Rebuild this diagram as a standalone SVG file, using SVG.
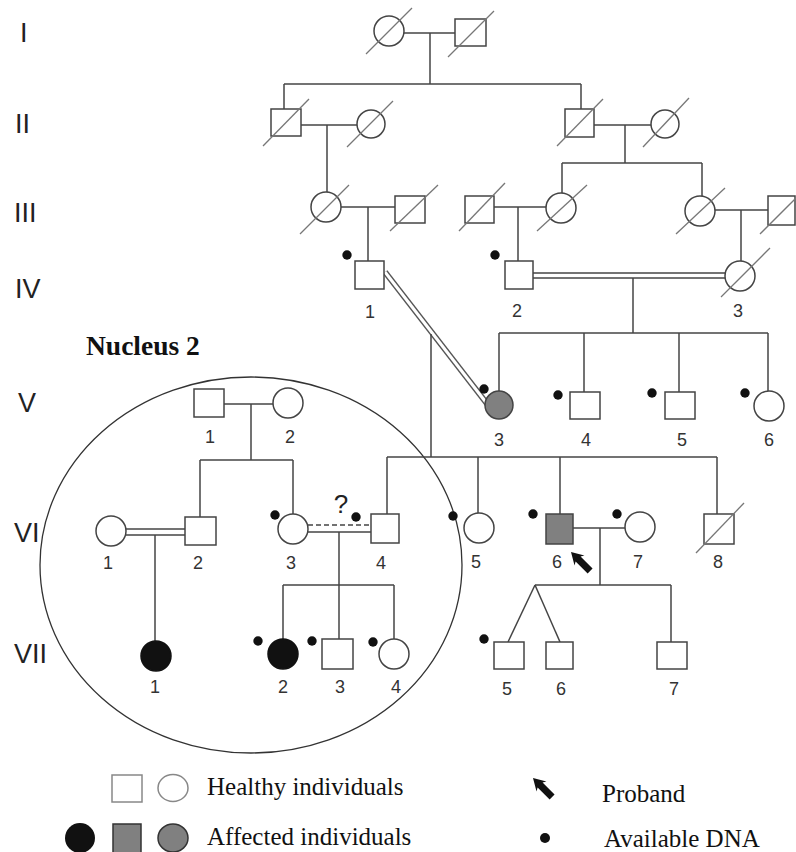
<svg xmlns="http://www.w3.org/2000/svg" width="796" height="852" viewBox="0 0 796 852">
<defs>
<style>
.ln{stroke:#444;stroke-width:1.5;fill:none}
.sym{stroke:#444;stroke-width:1.5;fill:#fff}
.aff{fill:#111;stroke:#111}
.gr{fill:#808080}
.sl{stroke:#777;stroke-width:1.3}
.dot{fill:#111}
.num{font-family:"Liberation Sans",Arial,sans-serif;font-size:18px;fill:#333;text-anchor:middle}
.gen{font-family:"Liberation Sans",Arial,sans-serif;font-size:27px;fill:#222}
.leg{font-family:"Liberation Serif","Times New Roman",serif;font-size:25px;fill:#111}
</style>
<polygon id="arrow" points="0,0 12,-7 10,-3.5 27,-3.5 27,3.5 10,3.5 12,7" fill="#111"/>
</defs>
<rect width="796" height="852" fill="#fff"/>

<g id="generation-labels">
<text class="gen" x="20" y="42">I</text>
<text class="gen" x="15" y="133">II</text>
<text class="gen" x="14" y="222">III</text>
<text class="gen" x="15" y="298">IV</text>
<text class="gen" x="18" y="412">V</text>
<text class="gen" x="14" y="542">VI</text>
<text class="gen" x="14" y="663">VII</text>
</g>

<g id="nucleus-2">
<ellipse cx="251" cy="565" rx="211" ry="188" fill="none" stroke="#333" stroke-width="1.3"/>
<text x="86" y="355" font-family="'Liberation Serif','Times New Roman',serif" font-size="27.5" font-weight="bold" fill="#111">Nucleus 2</text>
</g>

<g id="connectors">
<line class="ln" x1="404" y1="33" x2="455" y2="33"/>
<line class="ln" x1="430" y1="33" x2="430" y2="84"/>
<line class="ln" x1="284" y1="84" x2="581" y2="84"/>
<line class="ln" x1="284" y1="84" x2="284" y2="109"/>
<line class="ln" x1="581" y1="84" x2="581" y2="109"/>
<line class="ln" x1="301" y1="125" x2="357" y2="125"/>
<line class="ln" x1="327" y1="125" x2="327" y2="192"/>
<line class="ln" x1="594" y1="125" x2="651" y2="125"/>
<line class="ln" x1="625" y1="125" x2="625" y2="163"/>
<line class="ln" x1="562" y1="163" x2="702" y2="163"/>
<line class="ln" x1="562" y1="163" x2="562" y2="193"/>
<line class="ln" x1="702" y1="163" x2="702" y2="196"/>
<line class="ln" x1="341" y1="207" x2="395" y2="207"/>
<line class="ln" x1="368" y1="207" x2="368" y2="261"/>
<line class="ln" x1="494" y1="207" x2="546" y2="207"/>
<line class="ln" x1="518" y1="207" x2="518" y2="261"/>
<line class="ln" x1="715" y1="210" x2="768" y2="210"/>
<line class="ln" x1="741" y1="210" x2="741" y2="261"/>
<line class="ln" x1="533" y1="273" x2="726" y2="273"/>
<line class="ln" x1="533" y1="278" x2="726" y2="278"/>
<line class="ln" x1="633" y1="278" x2="633" y2="333"/>
<line x1="385" y1="272" x2="488" y2="405" stroke="#555" stroke-width="6"/>
<line x1="385" y1="272" x2="488" y2="405" stroke="#fff" stroke-width="3"/>
<line class="ln" x1="499" y1="333" x2="768" y2="333"/>
<line class="ln" x1="499" y1="333" x2="499" y2="391"/>
<line class="ln" x1="584" y1="333" x2="584" y2="392"/>
<line class="ln" x1="679" y1="333" x2="679" y2="392"/>
<line class="ln" x1="768" y1="333" x2="768" y2="391"/>
<line class="ln" x1="431" y1="334" x2="431" y2="457"/>
<line class="ln" x1="387" y1="457" x2="717" y2="457"/>
<line class="ln" x1="387" y1="457" x2="387" y2="514"/>
<line class="ln" x1="478" y1="457" x2="478" y2="513"/>
<line class="ln" x1="560" y1="457" x2="560" y2="514"/>
<line class="ln" x1="717" y1="457" x2="717" y2="514"/>
<line class="ln" x1="573" y1="528" x2="625" y2="528"/>
<line class="ln" x1="600" y1="528" x2="600" y2="585"/>
<line class="ln" x1="535" y1="585" x2="671" y2="585"/>
<line class="ln" x1="535" y1="585" x2="508" y2="642"/>
<line class="ln" x1="535" y1="585" x2="560" y2="642"/>
<line class="ln" x1="671" y1="585" x2="671" y2="642"/>
<line class="ln" x1="224" y1="404" x2="273" y2="404"/>
<line class="ln" x1="251" y1="404" x2="251" y2="460"/>
<line class="ln" x1="200" y1="460" x2="293" y2="460"/>
<line class="ln" x1="200" y1="460" x2="200" y2="517"/>
<line class="ln" x1="293" y1="460" x2="293" y2="514"/>
<line class="ln" x1="126" y1="529" x2="185" y2="529"/>
<line class="ln" x1="126" y1="535" x2="185" y2="535"/>
<line class="ln" x1="155" y1="535" x2="155" y2="641"/>
<line class="ln" x1="308" y1="525" x2="371" y2="525" stroke-dasharray="5,3"/>
<line class="ln" x1="308" y1="532" x2="371" y2="532"/>
<line class="ln" x1="339" y1="532" x2="339" y2="585"/>
<line class="ln" x1="283" y1="585" x2="394" y2="585"/>
<line class="ln" x1="283" y1="585" x2="283" y2="639"/>
<line class="ln" x1="339" y1="585" x2="339" y2="639"/>
<line class="ln" x1="394" y1="585" x2="394" y2="639"/>
</g>

<g id="I-1"><circle class="sym" cx="389" cy="31" r="15"/><line class="sl" x1="366" y1="54" x2="412" y2="8"/></g>
<g id="I-2"><rect class="sym" x="455" y="19" width="31" height="27"/><line class="sl" x1="448" y1="57" x2="494" y2="11"/></g>

<g id="II-1"><rect class="sym" x="271" y="109" width="30" height="27"/><line class="sl" x1="263" y1="146" x2="309" y2="99"/></g>
<g id="II-2"><circle class="sym" cx="371" cy="124" r="14"/><line class="sl" x1="347" y1="147" x2="393" y2="101"/></g>
<g id="II-3"><rect class="sym" x="565" y="109" width="29" height="28"/><line class="sl" x1="557" y1="146" x2="603" y2="99"/></g>
<g id="II-4"><circle class="sym" cx="665" cy="124" r="14"/><line class="sl" x1="643" y1="147" x2="689" y2="98"/></g>

<g id="III-1"><circle class="sym" cx="326" cy="207" r="15"/><line class="sl" x1="300" y1="234" x2="349" y2="185"/></g>
<g id="III-2"><rect class="sym" x="395" y="196" width="30" height="27"/><line class="sl" x1="390" y1="231" x2="438" y2="185"/></g>
<g id="III-3"><rect class="sym" x="465" y="196" width="29" height="27"/><line class="sl" x1="459" y1="231" x2="505" y2="183"/></g>
<g id="III-4"><circle class="sym" cx="561" cy="208" r="15"/><line class="sl" x1="537" y1="231" x2="587" y2="185"/></g>
<g id="III-5"><circle class="sym" cx="700" cy="211" r="15"/><line class="sl" x1="676" y1="234" x2="725" y2="188"/></g>
<g id="III-6"><rect class="sym" x="768" y="196" width="27" height="29"/><line class="sl" x1="760" y1="234" x2="796" y2="198"/></g>

<g id="IV-1"><rect class="sym" x="355" y="261" width="29" height="28"/><circle class="dot" cx="347" cy="255" r="4.7"/><text class="num" x="370" y="318">1</text></g>
<g id="IV-2"><rect class="sym" x="505" y="261" width="28" height="28"/><circle class="dot" cx="495" cy="255" r="4.7"/><text class="num" x="517" y="317">2</text></g>
<g id="IV-3"><circle class="sym" cx="740" cy="276" r="15"/><line class="sl" x1="721" y1="297" x2="770" y2="248"/><text class="num" x="738" y="317">3</text></g>

<g id="V-3"><circle class="sym gr" cx="499" cy="405" r="14"/><circle class="dot" cx="484" cy="389" r="4.7"/><text class="num" x="499" y="446">3</text></g>
<g id="V-4"><rect class="sym" x="570" y="392" width="30" height="27"/><circle class="dot" cx="558" cy="395" r="4.7"/><text class="num" x="586" y="446">4</text></g>
<g id="V-5"><rect class="sym" x="665" y="392" width="30" height="27"/><circle class="dot" cx="652" cy="393" r="4.7"/><text class="num" x="682" y="446">5</text></g>
<g id="V-6"><circle class="sym" cx="769" cy="406" r="15"/><circle class="dot" cx="745" cy="393" r="4.7"/><text class="num" x="769" y="446">6</text></g>
<g id="V-1-n2"><rect class="sym" x="194" y="389" width="30" height="28"/><text class="num" x="210" y="443">1</text></g>
<g id="V-2-n2"><circle class="sym" cx="288" cy="403" r="15"/><text class="num" x="290" y="443">2</text></g>

<g id="VI-1"><circle class="sym" cx="111" cy="531" r="15"/><text class="num" x="108" y="569">1</text></g>
<g id="VI-2"><rect class="sym" x="185" y="517" width="31" height="28"/><text class="num" x="198" y="569">2</text></g>
<g id="VI-3"><circle class="sym" cx="293" cy="529" r="15"/><circle class="dot" cx="275" cy="515" r="4.7"/><text class="num" x="291" y="569">3</text></g>
<g id="VI-4"><rect class="sym" x="371" y="514" width="28" height="29"/><circle class="dot" cx="356" cy="517" r="4.7"/><text x="341" y="513" font-family="'Liberation Sans',Arial,sans-serif" font-size="26" fill="#222" text-anchor="middle">?</text><text class="num" x="381" y="569">4</text></g>
<g id="VI-5"><circle class="sym" cx="479" cy="528" r="15"/><circle class="dot" cx="453" cy="516" r="4.7"/><text class="num" x="476" y="568">5</text></g>
<g id="VI-6"><rect class="sym gr" x="546" y="514" width="27" height="30"/><circle class="dot" cx="533" cy="514" r="4.7"/><text class="num" x="557" y="568">6</text><use href="#arrow" transform="translate(571,552) rotate(45)"/></g>
<g id="VI-7"><circle class="sym" cx="640" cy="527" r="15"/><circle class="dot" cx="617" cy="514" r="4.7"/><text class="num" x="638" y="568">7</text></g>
<g id="VI-8"><rect class="sym" x="704" y="514" width="30" height="30"/><line class="sl" x1="696" y1="553" x2="744" y2="503"/><text class="num" x="718" y="568">8</text></g>

<g id="VII-1"><circle class="sym aff" cx="156" cy="656" r="15"/><text class="num" x="155" y="693">1</text></g>
<g id="VII-2"><circle class="sym aff" cx="283" cy="654" r="15"/><circle class="dot" cx="258" cy="641" r="4.7"/><text class="num" x="283" y="693">2</text></g>
<g id="VII-3"><rect class="sym" x="322" y="639" width="31" height="30"/><circle class="dot" cx="312" cy="641" r="4.7"/><text class="num" x="340" y="693">3</text></g>
<g id="VII-4"><circle class="sym" cx="394" cy="654" r="15"/><circle class="dot" cx="373" cy="642" r="4.7"/><text class="num" x="396" y="693">4</text></g>
<g id="VII-5"><rect class="sym" x="494" y="642" width="30" height="27"/><circle class="dot" cx="484" cy="639" r="4.7"/><text class="num" x="507" y="695">5</text></g>
<g id="VII-6"><rect class="sym" x="546" y="642" width="27" height="27"/><text class="num" x="561" y="695">6</text></g>
<g id="VII-7"><rect class="sym" x="657" y="642" width="30" height="27"/><text class="num" x="674" y="695">7</text></g>

<g id="legend">
<rect x="112" y="775" width="30" height="27" fill="#fff" stroke="#888" stroke-width="1.5"/>
<ellipse cx="173" cy="788" rx="15" ry="13.5" fill="#fff" stroke="#888" stroke-width="1.5"/>
<text class="leg" x="207" y="795">Healthy individuals</text>
<circle cx="80" cy="838" r="15" fill="#111"/>
<rect x="113" y="824" width="28" height="30" fill="#808080" stroke="#333" stroke-width="1.5"/>
<ellipse cx="173" cy="838" rx="15" ry="14" fill="#808080" stroke="#333" stroke-width="1.5"/>
<text class="leg" x="207" y="845">Affected individuals</text>
<use href="#arrow" transform="translate(533,778) rotate(45)"/>
<text class="leg" x="602" y="802">Proband</text>
<circle cx="545" cy="838" r="5" fill="#111"/>
<text class="leg" x="604" y="847">Available DNA</text>
</g>
</svg>
